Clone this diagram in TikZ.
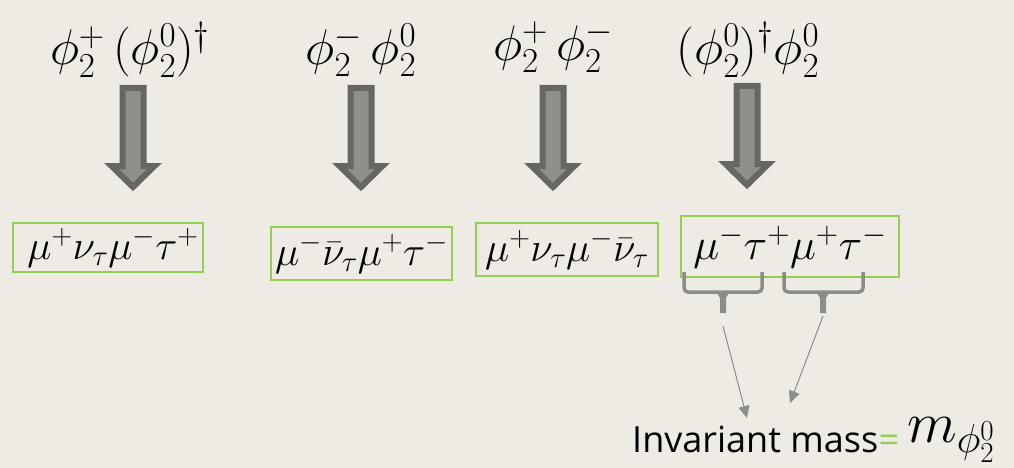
\RequirePackage{fix-cm}
\documentclass[tikz,border=0pt]{standalone}
\usepackage[no-math]{fontspec}
\newfontfamily\invfont{Open Sans}
\usetikzlibrary{arrows.meta}
\definecolor{bg}{RGB}{238,235,228}
\definecolor{arrowdark}{RGB}{102,103,96}
\definecolor{arrowfill}{RGB}{142,143,137}
\definecolor{boxgreen}{RGB}{146,208,80}
\definecolor{bracegray}{RGB}{140,140,136}
\tikzset{
  toplabel/.style={inner sep=0pt, font=\fontsize{50}{60}\selectfont},
  decaybox/.style={draw=boxgreen, line width=1.5pt, inner sep=0pt, font=\fontsize{41}{50}\selectfont},
  blockarrow/.pic={
    \draw[draw=arrowdark, fill=arrowfill, line width=6pt, line join=miter]
      (-10.5,3) -- (10.5,3) -- (10.5,81) -- (21.5,81) -- (0,102) -- (-21.5,81) -- (-10.5,81) -- cycle;
  },
  bracestroke/.style={draw=bracegray, line width=3.5pt, rounded corners=4pt},
  thinarrow/.style={draw=bracegray, line width=1pt, -{Triangle[length=12pt,width=11pt]}},
}
\begin{document}
\begin{tikzpicture}[x=1pt,y=-1pt]
\fill[bg] (0,0) rectangle (1014,468);
\useasboundingbox (0,0) rectangle (1014,468);

% top labels
\node[toplabel] (l1) at (130,50) {$\phi_2^+\,(\phi_2^0)^\dagger$};
\node[toplabel] (l2) at (361,50) {$\phi_2^-\,\phi_2^0$};
\node[toplabel] (l3) at (553,47) {$\phi_2^+\,\phi_2^-$};
\node[toplabel] (l4) at (748,50) {$(\phi_2^0)^\dagger\phi_2^0$};

% block arrows
\pic at (133,85) {blockarrow};
\pic at (361,85) {blockarrow};
\pic at (553,85) {blockarrow};
\pic at (747,83) {blockarrow};

% decay boxes
\node[decaybox, minimum width=190pt, minimum height=49pt] (d1) at (108,247.5) {\hspace*{10pt}$\mu^+\nu_\tau\mu^-\tau^+$};
\node[decaybox, minimum width=181pt, minimum height=53pt] (d2) at (361.5,253.5) {$\mu^-\bar\nu_\tau\mu^+\tau^-$};
\node[decaybox, minimum width=182pt, minimum height=53pt] (d3) at (567,249.5) {$\mu^+\nu_\tau\mu^-\bar\nu_\tau$};
\node[decaybox, minimum width=218pt, minimum height=61pt, font=\fontsize{44}{52}\selectfont] (d4) at (790,246.5) {$\mu^-\tau^+\mu^+\tau^-$};

% braces
\draw[bracestroke] (684,272) -- (684,292) -- (762,292) -- (762,272);
\fill[bracegray] (716,291) -- (730,291) -- (726,298) -- (726,313) -- (720,313) -- (720,298) -- cycle;
\draw[bracestroke] (784,272) -- (784,292) -- (863,292) -- (863,272);
\fill[bracegray] (816,291) -- (830,291) -- (826,298) -- (826,313) -- (820,313) -- (820,298) -- cycle;
\coordinate (b1) at (723,326);
\coordinate (b2) at (823,316);

% invariant mass
\node[anchor=base west, inner sep=0pt, font=\invfont\fontsize{36}{40}\selectfont] (inv) at (632,452) {Invariant mass};
\node[anchor=base west, inner sep=0pt, text=boxgreen, font=\invfont\fontsize{36}{40}\selectfont] (eq) at (inv.base east) {=};
\node[anchor=base west, inner sep=0pt, font=\fontsize{58}{64}\selectfont] (m) at (907,442) {$m_{\phi_2^0}$};
\coordinate (t1) at (747,418);
\coordinate (t2) at (790,403);

\draw[thinarrow] (b1) -- (t1);
\draw[thinarrow] (b2) -- (t2);
\end{tikzpicture}
\end{document}
